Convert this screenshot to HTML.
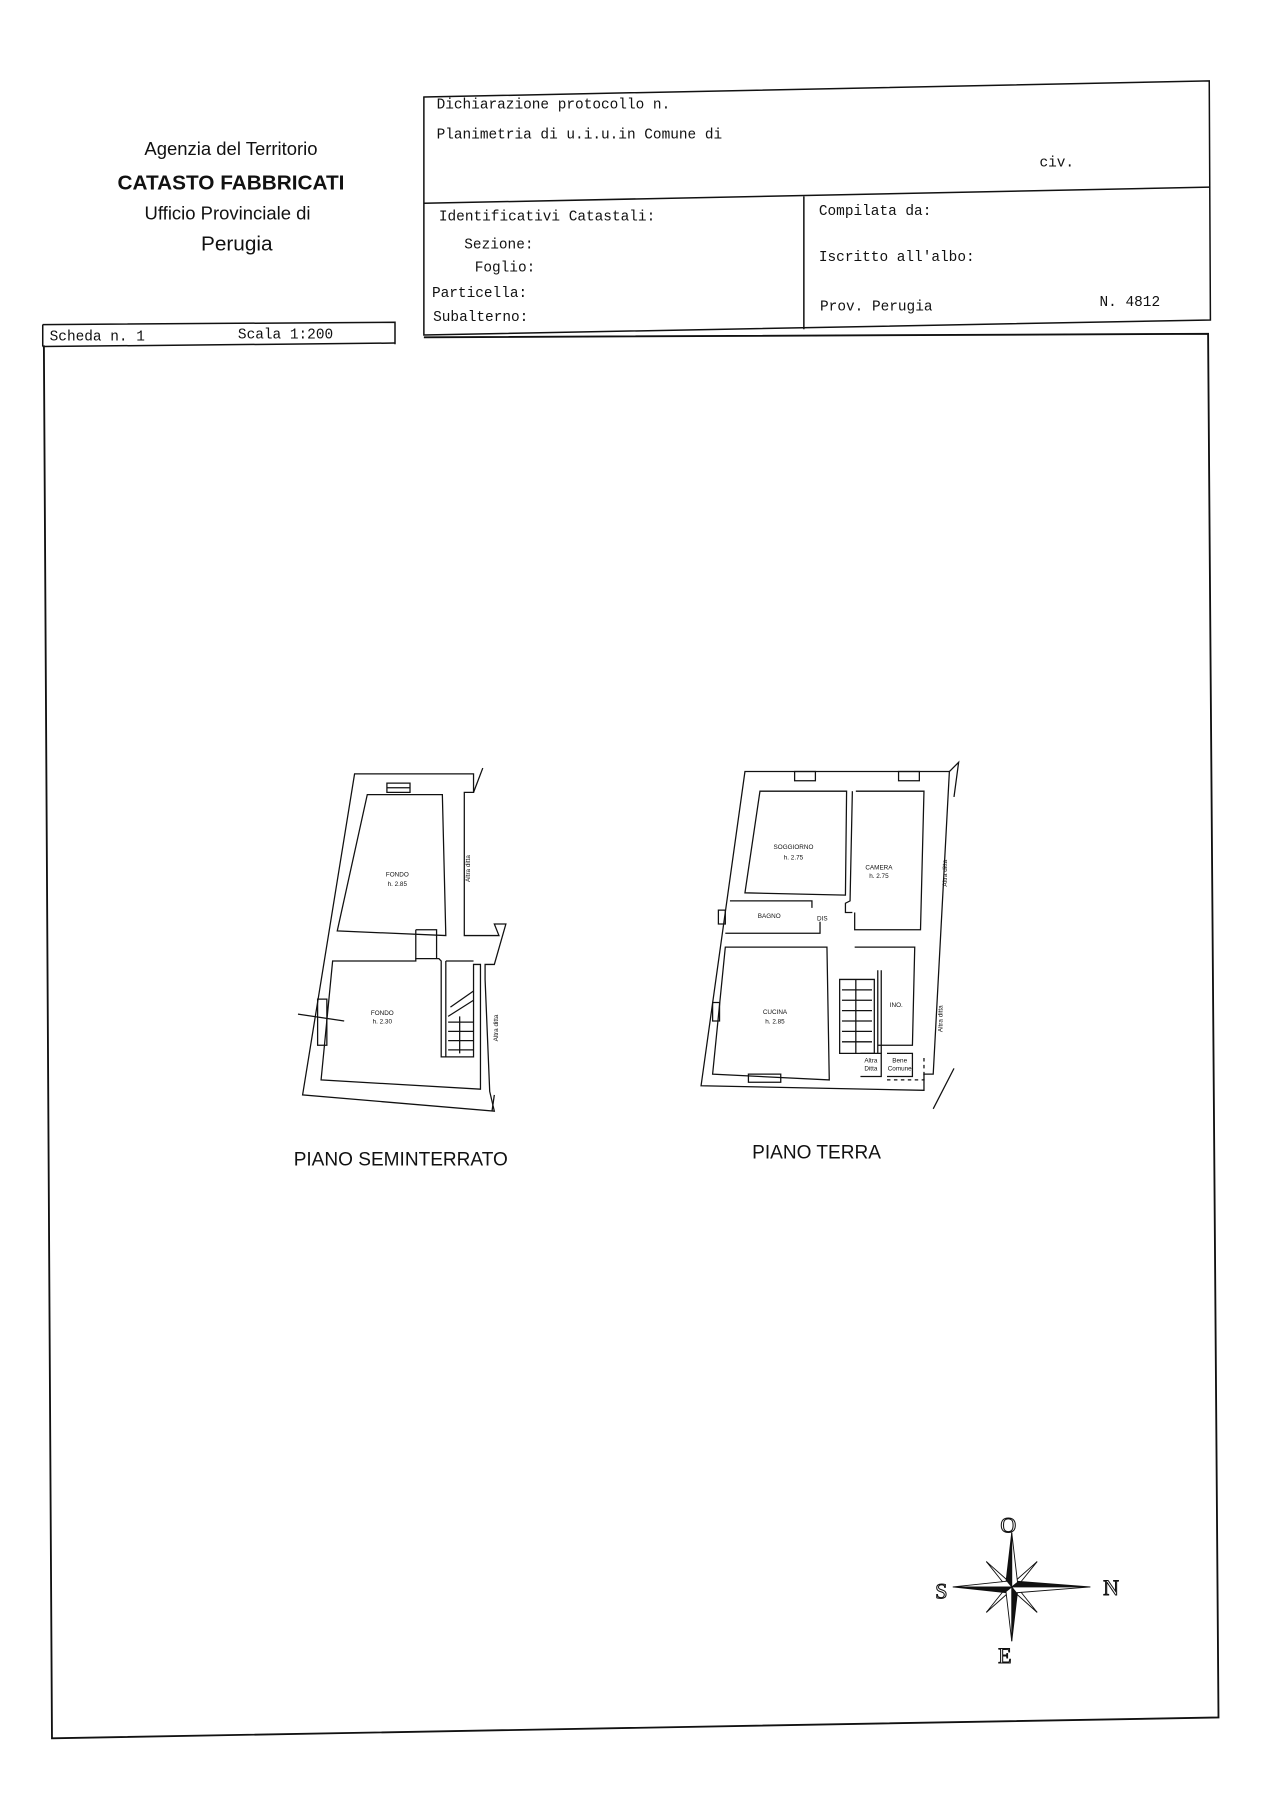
<!DOCTYPE html>
<html><head><meta charset="utf-8"><style>
html,body{margin:0;padding:0;background:#fff;}
svg{display:block}
.m{font-family:"Liberation Mono",monospace;font-size:12.5px;fill:#111}
.s{font-family:"Liberation Sans",sans-serif;fill:#111}
.f{font-family:"Liberation Sans",sans-serif;font-size:5.5px;fill:#111;text-anchor:middle}
</style></head><body>
<svg width="1270" height="1801" viewBox="0 0 1099.6 1559.3" xmlns="http://www.w3.org/2000/svg">
<rect width="1100" height="1560" fill="#fff"/>
<g fill="none" stroke="#111" stroke-width="1.3">
<!-- header -->
<path d="M367 84 L1047 70 L1048 277 L367 290 Z"/>
<path d="M367 176 L1047 162"/>
<path d="M696 170 L696 285"/>
<path d="M37 281 L342 279 L342 298"/>
<path d="M37 281 L37 300"/>
<path d="M37 300 L342 297"/>
<path d="M38 299 L45 1505 L1055 1487 L1046 289 L367 292" stroke-width="1.6"/>
</g>
<text x="200" y="134" class="s" font-size="16" text-anchor="middle">Agenzia del Territorio</text>
<text x="200" y="164" class="s" font-size="18" font-weight="bold" text-anchor="middle">CATASTO FABBRICATI</text>
<text x="197" y="190" class="s" font-size="16" text-anchor="middle">Ufficio Provinciale di</text>
<text x="205" y="217" class="s" font-size="18" text-anchor="middle">Perugia</text>
<text x="378" y="94" class="m">Dichiarazione protocollo n.</text>
<text x="378" y="120" class="m">Planimetria di u.i.u.in Comune di</text>
<text x="900" y="144" class="m">civ.</text>
<text x="380" y="191" class="m">Identificativi Catastali:</text>
<text x="402" y="215" class="m">Sezione:</text>
<text x="411" y="235" class="m">Foglio:</text>
<text x="374" y="257" class="m">Particella:</text>
<text x="375" y="278" class="m">Subalterno:</text>
<text x="709" y="186" class="m">Compilata da:</text>
<text x="709" y="226" class="m">Iscritto all'albo:</text>
<text x="710" y="269" class="m">Prov. Perugia</text>
<text x="952" y="265" class="m">N. 4812</text>
<text x="43" y="295" class="m">Scheda n. 1</text>
<text x="206" y="293" class="m">Scala 1:200</text>

<!-- left plan -->
<g fill="none" stroke="#111" stroke-width="1.1">
<path d="M307 670 L410 670 L410 686 L402 686 L402 810 L432 810 L428 800 L438 800 L428 835 L420 835 L420 848 L424 945 L428 962 L262 948 Z"/>
<path d="M410 686 L418 665"/>
<path d="M318 688 L383 688 L386 810 L292 806 Z"/>
<path d="M288 832 L360 832 L360 830 L380 830 L382 832 L382 915 L410 915 L410 835 L416 835 L416 943 L278 935 Z"/>
<path d="M386 832 L386 915 M386 832 L410 832"/>
<path d="M335 678 L355 678 L355 686 L335 686 Z M335 682 L355 682"/>
<path d="M360 805 L378 805 L378 830 M360 805 L360 830"/>
<path d="M275 865 L283 865 L283 905 L275 905 Z"/>
<path d="M258 878 L298 884"/>
<path d="M390 872 L410 858 M388 880 L410 866 M388 885 L410 885 M388 893 L410 893 M388 901 L410 901 M388 909 L410 909 M398 880 L398 912"/>
<path d="M428 948 L426 962"/>
</g>
<text x="344" y="759" class="f">FONDO</text><text x="344" y="767" class="f">h. 2.85</text>
<text x="331" y="879" class="f">FONDO</text><text x="331" y="886" class="f">h. 2.30</text>
<text class="f" transform="translate(407,752) rotate(-90)">Altra ditta</text>
<text class="f" transform="translate(431,890) rotate(-90)">Altra ditta</text>
<text x="347" y="1009" class="s" font-size="16.5" text-anchor="middle">PIANO SEMINTERRATO</text>

<!-- right plan -->
<g fill="none" stroke="#111" stroke-width="1.1">
<path d="M645 668 L822 668 L808 930 L800 930 L800 944 L607 940 Z"/>
<path d="M822 668 L830 660 L826 690"/>
<path d="M658 685 L733 685 L732 775 L645 773 Z"/>
<path d="M741 685 L800 685 L797 805 L740 805 L740 790 M738 685 L736 780 L732 782 L732 790 L738 790"/>
<path d="M632 780 L703 780 L703 786 M628 808 L710 808 L710 798"/>
<path d="M628 820 L716 820 L718 935 L617 930 Z"/>
<path d="M740 820 L792 820 L790 905 L760 905"/>
<path d="M727 848 L757 848 L757 912 L727 912 Z"/>
<path d="M729 857 L755 857 M729 866 L755 866 M729 875 L755 875 M729 884 L755 884 M729 893 L755 893 M729 902 L755 902 M741 848 L741 912"/>
<path d="M760 840 L760 912 M763 840 L763 912"/>
<path d="M745 912 L763 912 L763 932 L745 932 M768 912 L790 912 L790 932 L768 932"/>
<path d="M768 935 L800 935 L800 915" stroke-dasharray="3 3"/>
<path d="M808 960 L826 925"/>
<path d="M688 668 L706 668 L706 676 L688 676 Z M778 668 L796 668 L796 676 L778 676 Z"/>
<path d="M617 868 L623 868 L623 884 L617 884 Z"/>
<path d="M622 788 L628 788 L628 800 L622 800 Z"/>
<path d="M648 930 L676 930 L676 937 L648 937 Z"/>
</g>
<text x="687" y="735" class="f">SOGGIORNO</text><text x="687" y="744" class="f">h. 2.75</text>
<text x="761" y="753" class="f">CAMERA</text><text x="761" y="760" class="f">h. 2.75</text>
<text x="666" y="795" class="f">BAGNO</text><text x="712" y="797" class="f">DIS</text>
<text x="671" y="878" class="f">CUCINA</text><text x="671" y="886" class="f">h. 2.85</text>
<text x="776" y="872" class="f">INO.</text>
<text x="754" y="920" class="f">Altra</text><text x="754" y="927" class="f">Ditta</text>
<text x="779" y="920" class="f" font-size="4">Bene</text><text x="779" y="927" class="f" font-size="4">Comune</text>
<text class="f" transform="translate(820,756) rotate(-90)">Altra ditta</text>
<text class="f" transform="translate(816,882) rotate(-90)">Altra ditta</text>
<text x="707" y="1003" class="s" font-size="16.5" text-anchor="middle">PIANO TERRA</text>

<!-- compass -->
<g transform="translate(876,1374)" stroke="#111" stroke-width="0.8">
<path d="M0 0 L-22 -22 L-4 -4 Z M0 0 L22 -22 L4 -4 Z M0 0 L-22 22 L-4 4 Z M0 0 L22 22 L4 4 Z" fill="#111"/>
<path d="M-4 -6 L-22 -22 L-6 -2 M4 -6 L22 -22 L6 -2 M-4 6 L-22 22 L-6 2 M4 6 L22 22 L6 2" fill="#fff"/>
<path d="M0 -47 L-5 -4 L0 0 Z M0 47 L5 4 L0 0 Z M-51 0 L-4 5 L0 0 Z M68 0 L4 -5 L0 0 Z" fill="#111"/>
<path d="M0 -47 L5 -4 L0 0 Z M0 47 L-5 4 L0 0 Z M-51 0 L-4 -5 L0 0 Z M68 0 L4 5 L0 0 Z" fill="#fff"/>
</g>
<g font-family="Liberation Serif,serif" font-size="19" fill="#fff" stroke="#111" stroke-width="0.9" text-anchor="middle">
<text x="873" y="1327">O</text>
<text x="962" y="1381">N</text>
<text x="815" y="1384">S</text>
<text x="870" y="1440">E</text>
</g>
</svg>
</body></html>
